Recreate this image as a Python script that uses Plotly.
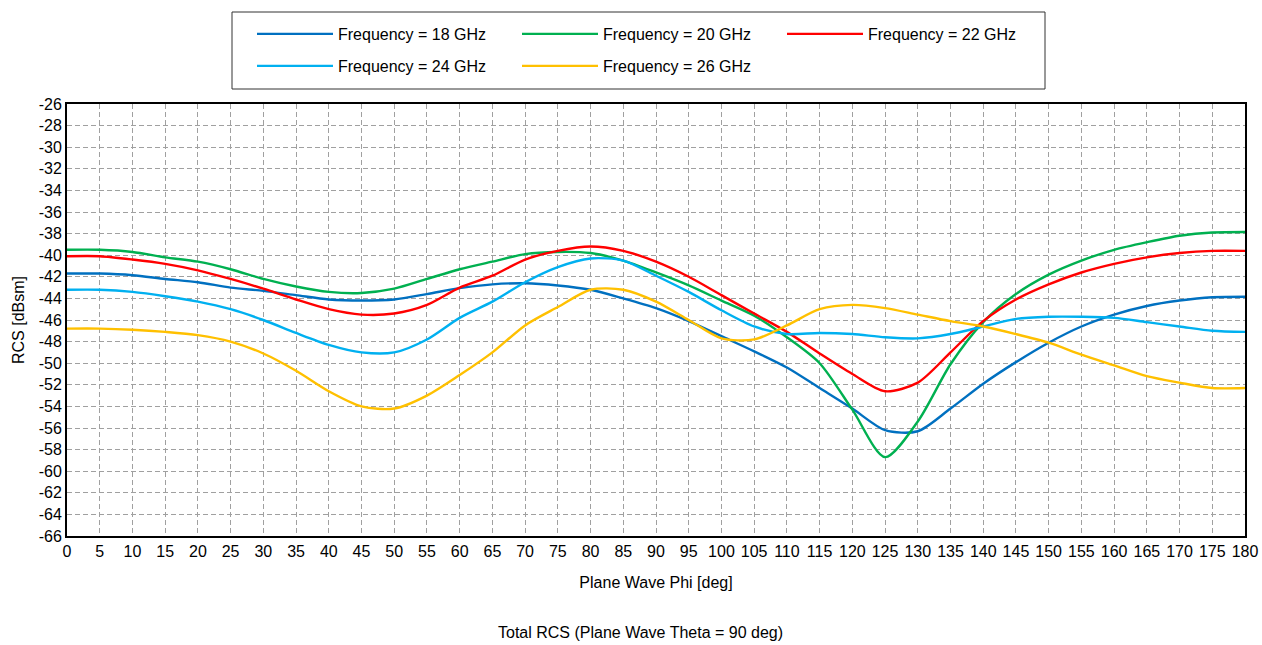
import plotly.graph_objects as go

phi = list(range(0, 181, 5))

rcs_18 = [-41.7, -41.7, -41.85, -42.2, -42.5, -43.0, -43.3, -43.7, -44.1, -44.2,
          -44.1, -43.6, -43.05, -42.7, -42.6, -42.8, -43.2, -44.0, -44.9, -46.1,
          -47.5, -48.9, -50.4, -52.3, -54.2, -56.2, -56.3, -54.2, -51.9, -49.9,
          -48.1, -46.6, -45.5, -44.7, -44.2, -43.9, -43.85]
rcs_20 = [-39.5, -39.5, -39.7, -40.2, -40.6, -41.3, -42.2, -42.9, -43.4, -43.5,
          -43.1, -42.2, -41.3, -40.6, -39.9, -39.7, -39.8, -40.5, -41.6, -42.8,
          -44.2, -45.6, -47.6, -50.0, -54.3, -58.7, -55.4, -50.1, -46.2, -43.6,
          -41.8, -40.5, -39.5, -38.8, -38.2, -37.9, -37.85]
rcs_22 = [-40.1, -40.1, -40.4, -40.8, -41.4, -42.2, -43.1, -44.1, -45.0, -45.5,
          -45.4, -44.6, -43.0, -41.9, -40.4, -39.6, -39.2, -39.6, -40.6, -42.0,
          -43.7, -45.4, -47.1, -49.1, -51.0, -52.6, -51.8, -49.0, -46.1, -44.1,
          -42.7, -41.6, -40.8, -40.2, -39.8, -39.6, -39.6]
rcs_24 = [-43.2, -43.2, -43.4, -43.8, -44.3, -45.0, -46.0, -47.2, -48.3, -49.0,
          -49.0, -47.8, -45.8, -44.3, -42.5, -41.1, -40.3, -40.5, -41.9, -43.4,
          -45.1, -46.6, -47.3, -47.2, -47.3, -47.6, -47.7, -47.3, -46.6, -45.9,
          -45.7, -45.7, -45.8, -46.2, -46.6, -47.0, -47.1]
rcs_26 = [-46.8, -46.8, -46.9, -47.1, -47.4, -48.0, -49.1, -50.7, -52.6, -54.0,
          -54.2, -53.0, -51.1, -49.0, -46.5, -44.8, -43.2, -43.2, -44.3, -46.0,
          -47.7, -47.8, -46.5, -45.0, -44.6, -44.9, -45.5, -46.1, -46.6, -47.3,
          -48.1, -49.2, -50.2, -51.2, -51.8, -52.3, -52.3]

names = ["Frequency = 18 GHz", "Frequency = 20 GHz", "Frequency = 22 GHz",
         "Frequency = 24 GHz", "Frequency = 26 GHz"]
values = [rcs_18, rcs_20, rcs_22, rcs_24, rcs_26]
colors = ["#0070C0", "#00B050", "#FF0000", "#00B0F0", "#FFC000"]
legend_rows = ["legend", "legend", "legend", "legend2", "legend2"]

x_ticks = list(range(0, 181, 5))
y_ticks = list(range(-66, -25, 2))

fig = go.Figure()
for name, vals, color, lg in zip(names, values, colors, legend_rows):
    fig.add_trace(go.Scatter(
        x=phi, y=vals, name=name, mode="lines", legend=lg,
        line=dict(color=color, width=2.4, shape="spline", smoothing=0.8),
    ))

font_family = "Arial, Liberation Sans, sans-serif"

# plot area in pixels: x 67..1245, y 104..536
W, H = 1262, 645
L, R, T, B = 67, 17, 104, 109
pw, ph = W - L - R, H - T - B

def px_x(px):
    return (px - L) / pw

def px_y(py):
    return 1 + (T - py) / ph

legend_common = dict(
    orientation="h", xanchor="left", yanchor="middle",
    bgcolor="rgba(0,0,0,0)", borderwidth=0,
    font=dict(size=16, family=font_family, color="#000"),
    entrywidth=174, entrywidthmode="pixels", itemwidth=76,
)

fig.update_layout(
    width=W, height=H,
    margin=dict(l=L, r=R, t=T, b=B, autoexpand=False),
    paper_bgcolor="white", plot_bgcolor="white",
    font=dict(family=font_family, size=16, color="#000"),
    showlegend=True,
    legend=dict(x=px_x(252), y=px_y(34), **legend_common),
    legend2=dict(x=px_x(252), y=px_y(66), **legend_common),
    shapes=[dict(
        type="rect", xref="paper", yref="paper",
        x0=px_x(232), x1=px_x(1045), y0=px_y(89), y1=px_y(12),
        line=dict(color="#333", width=1), fillcolor="white", layer="below",
    )],
    xaxis=dict(
        range=[0, 180], tickmode="array", tickvals=x_ticks,
        ticktext=[str(v) for v in x_ticks],
        showgrid=True, gridcolor="#a0a0a0", griddash="5px,3px", gridwidth=1,
        showline=True, linecolor="#000", linewidth=2, mirror=True,
        zeroline=False, ticks="", tickfont=dict(size=16), automargin=False,
        title=dict(text="Plane Wave Phi [deg]", font=dict(size=16), standoff=18),
    ),
    yaxis=dict(
        range=[-66, -26], tickmode="array", tickvals=y_ticks,
        ticktext=[str(v) for v in y_ticks],
        showgrid=True, gridcolor="#a0a0a0", griddash="5px,3px", gridwidth=1,
        showline=True, linecolor="#000", linewidth=2, mirror=True,
        zeroline=False, ticks="", tickfont=dict(size=16), automargin=False,
        title=dict(text="RCS [dBsm]", font=dict(size=16), standoff=10),
    ),
    annotations=[dict(
        text="Total RCS (Plane Wave Theta = 90 deg)",
        xref="paper", yref="paper", x=px_x(640), y=px_y(632),
        xanchor="center", yanchor="middle", showarrow=False,
        font=dict(size=16),
    )],
)

fig.write_html("out.html")
